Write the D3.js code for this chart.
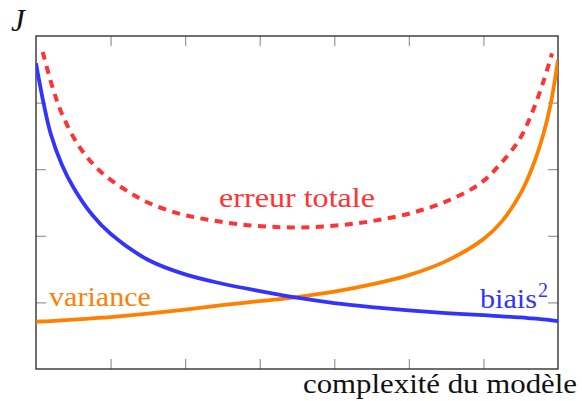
<!DOCTYPE html>
<html>
<head>
<meta charset="utf-8">
<script src="https://cdn.jsdelivr.net/npm/d3@7"></script>
<style>
  body { margin: 0; background: #fff; }
  svg { display: block; }
</style>
</head>
<body>
<svg id="chart" width="582" height="401"></svg>
<script>
// Model complexity grid shared by the bias and variance curves
const complexity = [0, 0.1, 0.2, 0.35, 0.5, 0.75, 1, 1.5, 2, 2.5, 3, 3.5, 4, 4.5, 5, 5.5, 6, 6.25, 6.5, 6.65, 6.8, 6.9, 7];
const bias2 = [4.59, 4.0, 3.52, 3.06, 2.73, 2.32, 2.03, 1.64, 1.42, 1.28, 1.17, 1.07, 0.99, 0.93, 0.88, 0.84, 0.81, 0.79, 0.775, 0.76, 0.745, 0.735, 0.72];
const variance = [0.71, 0.715, 0.72, 0.73, 0.74, 0.76, 0.78, 0.83, 0.89, 0.96, 1.02, 1.08, 1.16, 1.27, 1.41, 1.62, 1.95, 2.22, 2.64, 3.01, 3.51, 3.97, 4.64];

// Total error is sampled on its own (slightly narrower) complexity range
const totalComplexity = [0.09, 0.23, 0.36, 0.58, 0.85, 1.17, 1.5, 1.93, 2.37, 2.83, 3.27, 3.71, 4.17, 4.61, 5.06, 5.51, 5.95, 6.22, 6.49, 6.66, 6.8, 6.92];
const totalError = [4.76, 4.2, 3.8, 3.34, 2.98, 2.71, 2.5, 2.33, 2.23, 2.16, 2.13, 2.13, 2.17, 2.24, 2.35, 2.52, 2.78, 3.07, 3.46, 3.87, 4.3, 4.74];

// Unlabelled tick positions
const xTicks = [1, 2, 3, 4, 5, 6];
const yTicks = [1, 2, 3, 4];

const xDomain = [0, 7];
const yDomain = [0, 5];

const serif = '"Liberation Serif", "Times New Roman", serif';

const svg = d3.select("#chart");
const margin = { left: 36, right: 24, top: 36, bottom: 32 };
const W = +svg.attr("width"), H = +svg.attr("height");
const innerW = W - margin.left - margin.right;
const innerH = H - margin.top - margin.bottom;

const x = d3.scaleLinear().domain(xDomain).range([margin.left, margin.left + innerW]);
const y = d3.scaleLinear().domain(yDomain).range([margin.top + innerH, margin.top]);

svg.append("defs").append("clipPath").attr("id", "plot-clip")
  .append("rect")
  .attr("x", margin.left).attr("y", margin.top)
  .attr("width", innerW).attr("height", innerH);

// Inward ticks on all four sides
const tickLen = 10;
const axes = [
  { gen: d3.axisBottom(x).tickValues(xTicks), t: `translate(0,${y(0)})` },
  { gen: d3.axisTop(x).tickValues(xTicks), t: `translate(0,${y(5)})` },
  { gen: d3.axisLeft(y).tickValues(yTicks), t: `translate(${x(0)},0)` },
  { gen: d3.axisRight(y).tickValues(yTicks), t: `translate(${x(7)},0)` }
];
axes.forEach(a => {
  const g = svg.append("g").attr("transform", a.t)
    .call(a.gen.tickSize(-tickLen).tickFormat(""));
  g.select(".domain").remove();
  g.selectAll(".tick line").attr("stroke", "#8c8c8c").attr("stroke-width", 1.1);
});

// Plot frame
svg.append("rect")
  .attr("x", margin.left).attr("y", margin.top)
  .attr("width", innerW).attr("height", innerH)
  .attr("fill", "none").attr("stroke", "#333").attr("stroke-width", 1.4);

const line = d3.line().x(d => x(d[0])).y(d => y(d[1])).curve(d3.curveCatmullRom.alpha(0.5));
const plot = svg.append("g").attr("clip-path", "url(#plot-clip)");

const blue = "#3333ff", orange = "#ff8000", red = "#ff3333";

plot.append("path")
  .datum(d3.zip(totalComplexity, totalError))
  .attr("d", line).attr("fill", "none")
  .attr("stroke", red).attr("stroke-width", 4)
  .attr("stroke-dasharray", "8,6.5");

plot.append("path")
  .datum(d3.zip(complexity, variance))
  .attr("d", line).attr("fill", "none")
  .attr("stroke", orange).attr("stroke-width", 3.8);

plot.append("path")
  .datum(d3.zip(complexity, bias2))
  .attr("d", line).attr("fill", "none")
  .attr("stroke", blue).attr("stroke-width", 3.8);

// Text helper: serif label, optionally stretched to a given width
function label(px, py, str, opts = {}) {
  const t = svg.append("text")
    .attr("x", px).attr("y", py)
    .style("font-family", serif)
    .style("font-size", (opts.size || 28) + "px")
    .style("font-style", opts.italic ? "italic" : "normal")
    .attr("fill", opts.fill || "#111")
    .attr("text-anchor", opts.anchor || "start")
    .text(str);
  if (opts.width) t.attr("textLength", opts.width).attr("lengthAdjust", "spacingAndGlyphs");
  return t;
}

// Curve labels
label(x(3.5), y(2.43), "erreur totale", { fill: red, anchor: "middle", width: 156 });
label(x(0) + 13, y(0.95), "variance", { fill: orange, width: 102 });
label(x(7) - 78, y(0.92), "biais", { fill: blue, width: 57 });
label(x(7) - 20, y(0.92) - 11, "2", { fill: blue, size: 20 });

// Axis titles
label(11, 31, "J", { italic: true, size: 31 });
label(577, 393, "complexité du modèle", { anchor: "end", width: 274 });
</script>
</body>
</html>
